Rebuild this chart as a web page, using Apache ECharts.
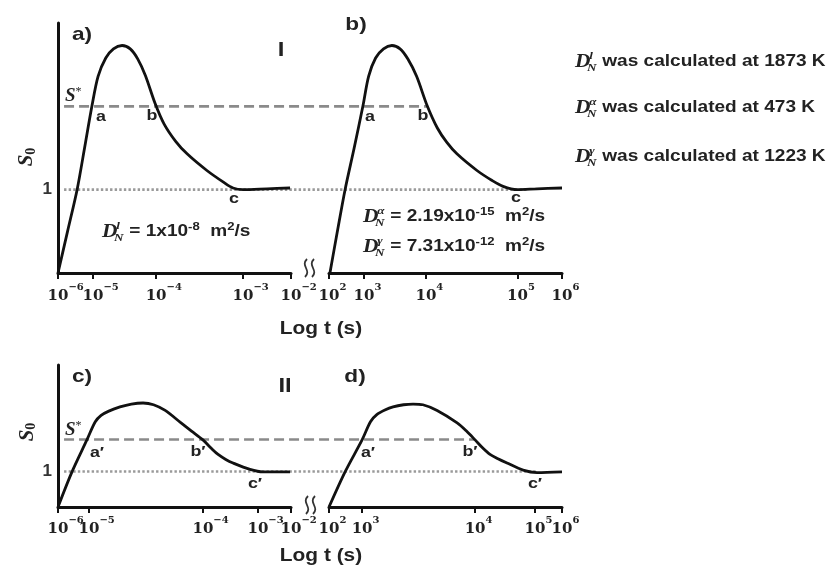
<!DOCTYPE html>
<html><head><meta charset="utf-8">
<script src="https://cdn.jsdelivr.net/npm/echarts@6/dist/echarts.min.js"></script>
<style>html,body{margin:0;padding:0;background:#fff}#c{width:833px;height:570px}</style>
</head><body><div id="c"></div>
<script>
// ---------- data (schematic x units 0..100 per panel, S0 on y) ----------
const tickExpLeft = ['\u22126', '\u22125', '\u22124', '\u22123', '\u22122'];
const tickExpRight = ['2', '3', '4', '5', '6'];
const tickPosA = [0, 15.0, 42.1, 79.4, 100];
const tickPosB = [0, 15.0, 41.6, 80.9, 100];
const tickPosC = [0, 13.3, 62.2, 85.8, 100];
const tickPosD = [0, 14.2, 62.7, 88.4, 100];
const yLabelValues = [1];
const sStarTop = 2.0;     // S* level, row I
const sStarBottom = 1.9;  // S* level, row II
const sOne = 1;
// curves [x, S0]
const curveA = [[0,0],[4.1,0.5],[8.2,1.0],[11.4,1.5],[14.6,2.01],[17.2,2.36],[20.5,2.58],[23.8,2.69],[27.5,2.73],[31.0,2.69],[34.2,2.57],[37.5,2.37],[41.6,2.04],[45.5,1.79],[50.5,1.58],[55.4,1.43],[63.9,1.23],[71.0,1.09],[75.1,1.02],[79.4,1.0],[89.7,1.01],[99.6,1.02]];
const curveB = [[0.4,0],[3.6,0.5],[6.9,1.0],[10.8,1.5],[14.6,2.01],[17.0,2.36],[20.0,2.58],[23.4,2.69],[27.0,2.73],[30.5,2.69],[33.8,2.57],[37.6,2.36],[42.1,2.01],[46.5,1.74],[50.5,1.57],[54.9,1.43],[63.5,1.23],[70.0,1.11],[74.7,1.04],[80.7,1.0],[89.3,1.01],[100,1.02]];
const curveC = [[0,0],[6.0,0.99],[12.4,1.89],[16.0,2.40],[18.5,2.58],[21.8,2.70],[26.6,2.82],[31.5,2.90],[36.5,2.93],[41.0,2.88],[46.0,2.72],[52.4,2.39],[57.3,2.14],[62.2,1.89],[66.0,1.64],[68.7,1.48],[72.0,1.34],[75.1,1.24],[82.4,1.06],[88.0,0.99],[99.6,0.99]];
const curveD = [[0,0],[6.9,0.99],[14.2,1.89],[17.8,2.40],[20.5,2.60],[24.0,2.73],[27.5,2.82],[32.0,2.88],[36.1,2.90],[40.3,2.88],[46.4,2.72],[55.0,2.37],[59.0,2.14],[62.7,1.89],[66.0,1.66],[69.1,1.48],[72.5,1.36],[76.4,1.24],[83.3,1.04],[89.3,0.97],[100,0.99]];
// reference-line extents in row units (panel-left units continued across the gap)
const dashTopX = [2.6, 158.4];
const dotTopX = [2.6, 202.0];
const dashBotX = [2.6, 179.0];
const dotBotX = [2.6, 205.6];

// ---------- helpers ----------
const ctx = document.createElement('canvas').getContext('2d');
function mw(font, s) { ctx.font = font; return ctx.measureText(s).width; }
const SANS = '"Liberation Sans", Arial, sans-serif';
const SERIF_T = '"DejaVu Serif", serif';
const SX = 1.19;
const INK = '#222';

function tickAxes(grid, pos, exps, margin) {
  const rich = {
    b: {fontFamily: SERIF_T, fontWeight: 'bold', fontSize: 15, color: INK, lineHeight: 22, verticalAlign: 'bottom'},
    s: {fontFamily: SERIF_T, fontWeight: 'bold', fontSize: 10, color: INK, lineHeight: 14, verticalAlign: 'top'}
  };
  exps.forEach((e, i) => { rich['p' + i] = {width: mw('bold 10px "DejaVu Serif"', e), lineHeight: 22}; });
  const fmt = v => { const i = pos.indexOf(v); return i < 0 ? '' : '{p' + i + '| }{b|10}{s|' + exps[i] + '}'; };
  const lab = vals => ({show: true, customValues: vals, margin: margin, rich: rich, showMinLabel: true, showMaxLabel: true, hideOverlap: false, formatter: fmt});
  const main = {
    gridIndex: grid, type: 'value', min: 0, max: 100, position: 'bottom',
    axisLine: {show: true, onZero: false, lineStyle: {color: '#111', width: 3}},
    axisTick: {show: true, customValues: pos, length: 6, lineStyle: {color: '#111', width: 2}},
    axisLabel: lab(pos.filter((_, i) => i % 2 === 0)),
    splitLine: {show: false}
  };
  const extra = {
    gridIndex: grid, type: 'value', min: 0, max: 100, position: 'bottom',
    axisLine: {show: false, onZero: false}, axisTick: {show: false},
    axisLabel: lab(pos.filter((_, i) => i % 2 === 1)),
    splitLine: {show: false}
  };
  return [main, extra];
}
function yAx(grid, max, visible, nameGap, namePad) {
  const o = {gridIndex: grid, type: 'value', min: 0, max: max, interval: 1, show: visible,
    axisLine: {show: true, lineStyle: {color: '#111', width: 3}},
    axisTick: {show: false}, splitLine: {show: false},
    axisLabel: {customValues: yLabelValues, formatter: v => String(v), fontFamily: SANS, fontWeight: 'bold', fontSize: 17, color: '#333', margin: 6}};
  if (visible) {
    o.name = '{s|S}{z|0}'; o.nameLocation = 'middle'; o.nameRotate = 90; o.nameGap = nameGap;
    o.nameTextStyle = {padding: namePad, rich: {
      s: {fontFamily: '"Liberation Serif", serif', fontStyle: 'italic', fontWeight: 'bold', fontSize: 21, color: INK, lineHeight: 22},
      z: {fontFamily: '"Liberation Serif", serif', fontWeight: 'bold', fontSize: 14, color: INK, lineHeight: 22, verticalAlign: 'bottom'}}};
  }
  return o;
}
function curve(i, data) {
  return {type: 'line', xAxisIndex: i, yAxisIndex: i, data: data, showSymbol: false, smooth: 0.3,
    lineStyle: {color: '#111', width: 2.8}, z: 5, silent: true};
}
function refLine(i, xs, y, dashed) {
  return {type: 'line', xAxisIndex: i, yAxisIndex: i, data: [[xs[0], y], [xs[1], y]], showSymbol: false,
    lineStyle: dashed ? {color: '#8a8a8a', width: 2.6, type: [10, 5]} : {color: '#9a9a9a', width: 2.6, type: [2.4, 2.2]},
    z: 2, silent: true};
}
function txt(text, x, y, size, opts) {
  opts = opts || {};
  return {type: 'text', x: x, y: y, scaleX: opts.sx === undefined ? SX : opts.sx, z: 50,
    style: {text: text, fontFamily: opts.family || SANS, fontSize: size, fontWeight: opts.weight || 'bold',
      fontStyle: opts.fstyle || 'normal', fill: INK, align: opts.align || 'center', verticalAlign: 'middle'}};
}
function dFormula(x, y, sup, rest) {
  const dFont = 'italic bold 18px "Liberation Serif"';
  const sf = 'italic bold 11px "Liberation Serif"';
  const dW = mw(dFont, 'D');
  const sw = Math.max(mw(sf, sup), mw(sf, 'N'));
  const rx = dW - 1 + sw + 3;
  return {type: 'group', x: x, y: y, scaleX: SX, z: 50, children: [
    {type: 'text', x: 0, y: 0, style: {text: 'D', font: dFont, fill: INK, align: 'left', verticalAlign: 'middle'}},
    {type: 'text', x: dW - 1, y: -6, style: {text: sup, font: sf, fill: INK, align: 'left', verticalAlign: 'middle'}},
    {type: 'text', x: dW - 3, y: 6, style: {text: 'N', font: sf, fill: INK, align: 'left', verticalAlign: 'middle'}},
    {type: 'text', x: rx, y: 0, style: {text: rest, fontFamily: SANS, fontSize: 16, fontWeight: 'bold', fill: INK,
      align: 'left', verticalAlign: 'middle', lineHeight: 22,
      rich: {s: {fontFamily: SANS, fontSize: 11, fontWeight: 'bold', fill: INK, verticalAlign: 'top', lineHeight: 13}}}}
  ]};
}
function sStar(x, y) {
  return {type: 'text', x: x, y: y, z: 50, style: {text: '{s|S}{a|*}', align: 'left', verticalAlign: 'middle', lineHeight: 20,
    rich: {s: {fontFamily: '"Liberation Serif", serif', fontStyle: 'italic', fontWeight: 'bold', fontSize: 19, fill: INK, lineHeight: 20},
           a: {fontFamily: '"Liberation Serif", serif', fontSize: 12, fill: INK, verticalAlign: 'top', lineHeight: 12}}}};
}
function breakMark(cx, cy) {
  const out = [];
  [-4, 3].forEach(dx => {
    const x = cx + dx;
    out.push({type: 'bezierCurve', z: 50, shape: {x1: x + 1, y1: cy - 9, x2: x - 1, y2: cy + 9, cpx1: x - 6, cpy1: cy - 2, cpx2: x + 6, cpy2: cy + 2},
      style: {stroke: '#333', lineWidth: 1.8, fill: null}});
  });
  return out;
}

const axA = tickAxes(0, tickPosA, tickExpLeft, 9);
const axB = tickAxes(1, tickPosB, tickExpRight, 9);
const axC = tickAxes(2, tickPosC, tickExpLeft, 8);
const axD = tickAxes(3, tickPosD, tickExpRight, 8);

const chart = echarts.init(document.getElementById('c'), null, {renderer: 'canvas'});
const option = {
  animation: false,
  backgroundColor: '#fff',
  grid: [
    {left: 58, top: 23, width: 233, height: 250},
    {left: 329, top: 23, width: 233, height: 250},
    {left: 58, top: 365, width: 233, height: 142},
    {left: 329, top: 365, width: 233, height: 142},
    {left: 58, top: 23, width: 504, height: 250},
    {left: 58, top: 365, width: 504, height: 142}
  ],
  xAxis: [
    axA[0], axB[0], axC[0], axD[0],
    {gridIndex: 4, type: 'value', min: 0, max: 216.3, show: false},
    {gridIndex: 5, type: 'value', min: 0, max: 216.3, show: false},
    axA[1], axB[1], axC[1], axD[1]
  ],
  yAxis: [
    yAx(0, 3, true, 20, [0, 18, 0, 0]),
    yAx(1, 3, false),
    yAx(2, 4, true, 9, [0, 0, 0, 8]),
    yAx(3, 4, false),
    {gridIndex: 4, type: 'value', min: 0, max: 3, show: false},
    {gridIndex: 5, type: 'value', min: 0, max: 4, show: false}
  ],
  series: [
    refLine(4, dashTopX, sStarTop, true),
    refLine(4, dotTopX, sOne, false),
    refLine(5, dashBotX, sStarBottom, true),
    refLine(5, dotBotX, sOne, false),
    curve(0, curveA), curve(1, curveB), curve(2, curveC), curve(3, curveD)
  ],
  graphic: [
    txt('a)', 82, 35, 19), txt('b)', 356, 25, 19), txt('c)', 82, 377, 19), txt('d)', 355, 377, 19),
    txt('I', 281, 50, 20), txt('II', 285, 386, 20),
    sStar(65, 96), sStar(65, 430),
    txt('a', 101, 117, 15), txt('b', 152, 116, 15), txt('c', 234, 199, 15),
    txt('a', 370, 117, 15), txt('b', 423, 116, 15), txt('c', 516, 198, 15),
    txt('a\u2032', 97, 453, 15), txt('b\u2032', 198, 452, 15), txt('c\u2032', 255, 484, 15),
    txt('a\u2032', 368, 453, 15), txt('b\u2032', 470, 452, 15), txt('c\u2032', 535, 484, 15),
    dFormula(102, 232, 'l', '= 1x10{s|-8}  m{s|2}/s'),
    dFormula(363, 217, '\u03B1', '= 2.19x10{s|-15}  m{s|2}/s'),
    dFormula(363, 247, '\u03B3', '= 7.31x10{s|-12}  m{s|2}/s'),
    dFormula(575, 62, 'l', 'was calculated at 1873 K'),
    dFormula(575, 108, '\u03B1', 'was calculated at 473 K'),
    dFormula(575, 157, '\u03B3', 'was calculated at 1223 K'),
    txt('Log t (s)', 321, 329, 18, {sx: 1.16}),
    txt('Log t (s)', 321, 556, 18, {sx: 1.16})
  ].concat(breakMark(310, 268), breakMark(311, 505))
};
chart.setOption(option);
</script>
</body></html>
